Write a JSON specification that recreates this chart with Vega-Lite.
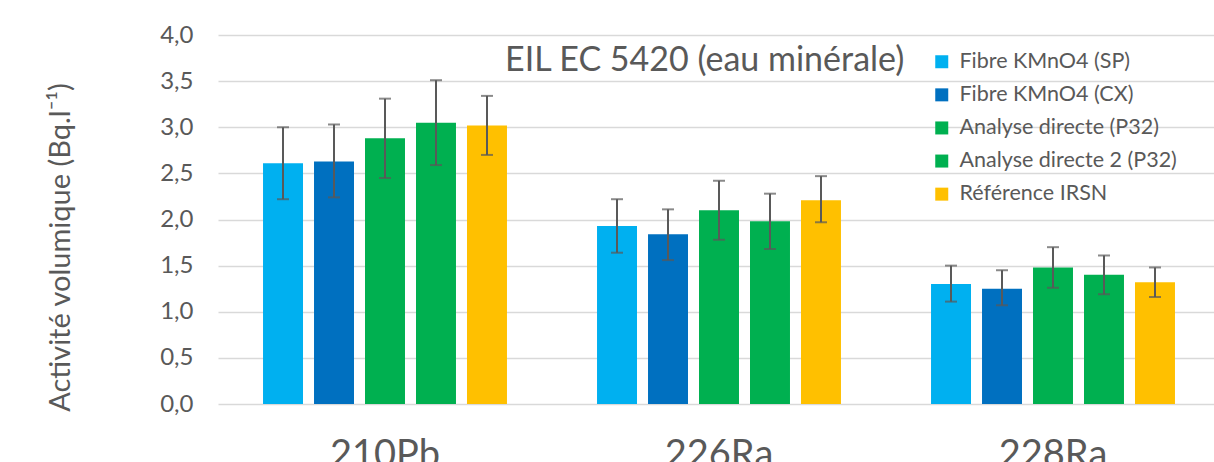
{
  "$schema": "https://vega.github.io/schema/vega-lite/v6.json",
  "autosize": "none",
  "width": 1002,
  "height": 369,
  "padding": {"left": 218, "top": 35, "right": 0, "bottom": 60},
  "background": "white",
  "config": {
    "view": {"stroke": null},
    "font": "Lato",
    "axis": {"labelColor": "#595959", "titleColor": "#595959", "labelFont": "Lato", "titleFont": "Lato"}
  },
  "title": {
    "text": "EIL EC 5420 (eau minérale)",
    "anchor": "start",
    "frame": "group",
    "dx": 287,
    "dy": 55,
    "offset": 0,
    "fontSize": 34,
    "fontWeight": "normal",
    "color": "#595959",
    "font": "Lato"
  },
  "data": {
    "values": [
      {"nuclide": "210Pb", "serie": "Fibre KMnO4 (SP)", "valeur": 2.61, "bas": 2.22, "haut": 3.00},
      {"nuclide": "210Pb", "serie": "Fibre KMnO4 (CX)", "valeur": 2.63, "bas": 2.24, "haut": 3.03},
      {"nuclide": "210Pb", "serie": "Analyse directe (P32)", "valeur": 2.88, "bas": 2.45, "haut": 3.31},
      {"nuclide": "210Pb", "serie": "Analyse directe 2 (P32)", "valeur": 3.05, "bas": 2.59, "haut": 3.51},
      {"nuclide": "210Pb", "serie": "Référence IRSN", "valeur": 3.02, "bas": 2.70, "haut": 3.34},
      {"nuclide": "226Ra", "serie": "Fibre KMnO4 (SP)", "valeur": 1.93, "bas": 1.64, "haut": 2.22},
      {"nuclide": "226Ra", "serie": "Fibre KMnO4 (CX)", "valeur": 1.84, "bas": 1.56, "haut": 2.11},
      {"nuclide": "226Ra", "serie": "Analyse directe (P32)", "valeur": 2.10, "bas": 1.78, "haut": 2.42},
      {"nuclide": "226Ra", "serie": "Analyse directe 2 (P32)", "valeur": 1.98, "bas": 1.68, "haut": 2.28},
      {"nuclide": "226Ra", "serie": "Référence IRSN", "valeur": 2.21, "bas": 1.97, "haut": 2.47},
      {"nuclide": "228Ra", "serie": "Fibre KMnO4 (SP)", "valeur": 1.30, "bas": 1.11, "haut": 1.50},
      {"nuclide": "228Ra", "serie": "Fibre KMnO4 (CX)", "valeur": 1.25, "bas": 1.07, "haut": 1.45},
      {"nuclide": "228Ra", "serie": "Analyse directe (P32)", "valeur": 1.48, "bas": 1.26, "haut": 1.70},
      {"nuclide": "228Ra", "serie": "Analyse directe 2 (P32)", "valeur": 1.40, "bas": 1.19, "haut": 1.61},
      {"nuclide": "228Ra", "serie": "Référence IRSN", "valeur": 1.32, "bas": 1.16, "haut": 1.48}
    ]
  },
  "encoding": {
    "x": {
      "field": "nuclide", "type": "nominal",
      "scale": {"domain": ["210Pb", "226Ra", "228Ra"], "paddingInner": 0, "paddingOuter": 0},
      "axis": {"title": null, "labelAngle": 0, "labelFontSize": 38, "labelPadding": 32, "ticks": false, "domain": false, "grid": false}
    },
    "xOffset": {
      "field": "serie", "type": "nominal",
      "scale": {"domain": ["Fibre KMnO4 (SP)", "Fibre KMnO4 (CX)", "Analyse directe (P32)", "Analyse directe 2 (P32)", "Référence IRSN"], "paddingInner": 0.216, "paddingOuter": 0.883}
    }
  },
  "layer": [
    {
      "mark": {"type": "bar"},
      "encoding": {
        "y": {
          "field": "valeur", "type": "quantitative",
          "scale": {"domain": [0, 4], "nice": false},
          "axis": {
            "title": "Activité volumique (Bq.l⁻¹)",
            "titleFontSize": 29, "titleFontWeight": "normal",
            "titleX": -143, "titleY": 212, "titleAngle": -90, "titleBaseline": "bottom",
            "values": [0, 0.5, 1, 1.5, 2, 2.5, 3, 3.5, 4],
            "labelExpr": "replace(format(datum.value, '.1f'), '.', ',')",
            "labelFontSize": 24, "labelPadding": 25,
            "ticks": false, "domain": false,
            "gridColor": "#d9d9d9", "gridWidth": 1.5
          }
        },
        "color": {
          "field": "serie", "type": "nominal",
          "scale": {
            "domain": ["Fibre KMnO4 (SP)", "Fibre KMnO4 (CX)", "Analyse directe (P32)", "Analyse directe 2 (P32)", "Référence IRSN"],
            "range": ["#00B0F0", "#0070C0", "#00B050", "#00B050", "#FFC000"]
          },
          "legend": {
            "title": null,
            "orient": "none",
            "legendX": 713,
            "legendY": 16,
            "symbolType": "square",
            "symbolSize": 169,
            "symbolStrokeWidth": 0,
            "labelFontSize": 21.5,
            "labelColor": "#595959",
            "labelFont": "Lato",
            "labelOffset": 7,
            "rowPadding": 10.1,
            "labelLimit": 400
          }
        }
      }
    },
    {
      "mark": {"type": "rule", "color": "#595959", "strokeWidth": 2},
      "encoding": {
        "y": {"field": "bas", "type": "quantitative"},
        "y2": {"field": "haut"}
      }
    },
    {
      "mark": {"type": "tick", "color": "#595959", "thickness": 2, "size": 12, "orient": "horizontal"},
      "encoding": {"y": {"field": "bas", "type": "quantitative"}}
    },
    {
      "mark": {"type": "tick", "color": "#595959", "thickness": 2, "size": 12, "orient": "horizontal"},
      "encoding": {"y": {"field": "haut", "type": "quantitative"}}
    }
  ]
}
